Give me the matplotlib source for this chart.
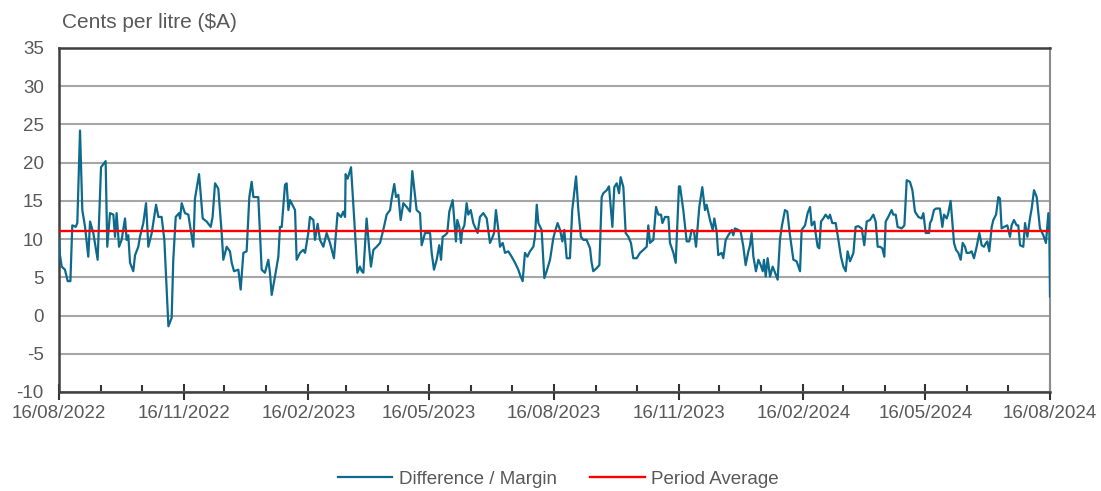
import matplotlib
matplotlib.use("Agg")
import matplotlib.pyplot as plt
import matplotlib.dates as mdates
import numpy as np
from datetime import datetime

plt.rcParams['font.family'] = ['Liberation Sans', 'DejaVu Sans']
plt.rcParams['axes.unicode_minus'] = False

start_date = datetime(2022, 8, 16)
end_date = datetime(2024, 8, 16)

# days after 16/08/2022
day_offset = [
    0.0, 0.7, 2.0, 4.4, 6.4, 8.4, 9.8, 12.3, 13.5, 15.5, 17.2, 19.2, 21.6, 22.9, 25.3, 28.5,
    31.0, 34.4, 35.6, 37.6, 40.1, 41.3, 42.5, 44.3, 46.2, 48.7, 49.9, 51.1, 52.4, 54.8, 56.1,
    58.5, 59.7, 62.2, 64.2, 65.9, 68.4, 71.6, 73.3, 75.7, 77.7, 80.7, 83.1, 84.3, 86.1, 88.5,
    89.3, 90.5, 92.9, 95.4, 97.9, 99.1, 100.3, 103.3, 106.0, 108.9, 111.9, 113.3, 115.1, 117.5,
    120.0, 121.2, 123.7, 126.1, 127.4, 129.1, 132.3, 134.0, 136.0, 138.4, 140.4, 142.1, 143.4,
    147.0, 149.5, 151.9, 154.4, 155.6, 156.9, 159.3, 161.8, 163.0, 164.3, 166.7, 167.9, 169.2,
    170.4, 174.1, 175.3, 177.8, 180.2,
    181.5, 182.7, 183.9, 185.1, 187.6, 188.8, 190.8, 192.5, 195.0, 197.4, 199.9, 202.8, 205.5,
    208.0, 209.7, 211.0, 211.4, 212.9, 215.4, 217.8, 220.1, 222.0, 223.3, 224.5, 226.9, 228.7,
    230.1, 231.9, 234.3, 236.8, 239.2, 241.7, 244.2, 245.4, 247.3, 248.6, 250.3, 252.0, 254.0,
    256.5, 258.9, 260.6, 263.8, 266.3, 267.5, 270.0, 272.4,
    273.7, 274.9, 276.6, 278.6, 280.5, 281.8, 283.0, 284.7, 286.4, 287.9, 290.4, 292.8, 293.8,
    295.3, 296.5, 297.5, 299.0, 300.7, 301.9, 303.7, 305.6, 308.8, 310.5, 313.0, 315.5, 317.9,
    319.9, 320.9, 322.3, 324.1, 325.3, 327.3, 329.0, 331.4, 333.9, 336.4, 338.8, 340.1, 342.0,
    343.7, 345.5, 347.4, 349.9, 351.1, 352.4, 353.6, 356.0, 358.0, 359.7, 362.2, 364.6,
    365.9, 367.8, 369.6, 371.3, 372.7, 374.5, 376.9, 378.6, 381.4, 383.1, 385.0, 386.8, 389.2,
    391.7, 392.9, 394.1, 396.6, 398.6, 400.3, 401.5, 404.0, 405.7, 408.2, 409.6, 411.4, 413.1,
    414.3, 416.3, 418.0, 420.0, 421.9, 423.6, 426.1, 428.6, 431.0, 433.5, 434.7, 435.9, 438.4,
    440.4, 442.1, 444.1, 445.1, 447.0, 449.5, 450.7, 453.2, 454.9, 457.3,
    458.1, 460.5, 463.0, 464.9, 466.7, 468.4, 469.9, 472.3, 474.5, 476.5, 477.7, 480.2, 482.2,
    483.4, 485.1, 486.3, 488.8, 490.0, 491.8, 493.7, 496.2, 497.4, 498.6, 501.1, 502.8, 504.8,
    506.5, 508.5, 509.7, 510.9, 512.2, 514.1, 515.9, 517.6, 519.1, 520.0, 521.3, 522.7, 524.5,
    526.4, 528.2, 530.1, 531.8, 533.1, 535.5, 537.2, 539.2, 541.7, 544.1, 546.6, 547.8,
    550.3, 552.2, 554.0, 555.2, 557.2, 558.1, 559.6, 560.8, 562.1, 563.8, 565.5, 567.5, 568.7,
    570.4, 572.9, 574.9, 576.8, 578.6, 580.3, 581.7, 583.5, 586.0, 587.6, 589.6, 592.1, 594.0,
    595.8, 598.2, 600.7, 602.4, 603.9, 605.6, 607.3, 608.8, 609.8, 611.7, 614.2, 615.4, 617.2,
    618.6, 621.6, 623.6, 625.3, 627.7, 629.5, 631.4, 633.9, 636.3, 637.6, 639.3, 641.8,
    642.5, 643.7, 645.4, 646.9, 649.8, 651.6, 652.8, 654.8, 656.0, 657.7, 659.2, 660.2, 661.7,
    663.4, 665.1, 666.6, 668.3, 669.5, 671.5, 673.2, 674.9, 676.9, 678.9, 680.6, 682.3, 683.8,
    684.8, 686.2, 688.0, 689.2, 691.2, 692.9, 694.1, 695.3, 697.1, 699.5, 701.5, 702.7, 704.4,
    706.4, 707.6, 708.9, 711.3, 712.6, 714.3, 716.2, 717.5, 719.2, 721.2, 722.4, 723.6, 726.1,
    728.0, 729.8, 730.5, 731.0,
]

margin = [
    10.0, 7.9, 6.4, 6.0, 4.5, 4.5, 11.8, 11.6, 12.1, 24.2, 13.8, 11.6, 7.7, 12.3, 10.8, 7.3,
    19.4, 20.2, 9.0, 13.4, 13.2, 10.3, 13.4, 9.0, 9.9, 12.7, 9.9, 10.5, 6.9, 5.8, 7.9,
    9.0, 10.3, 12.1, 14.7, 9.0, 10.8, 14.5, 12.9, 12.9, 9.9, -1.4, -0.3, 7.3, 12.9, 13.4,
    12.7, 14.7, 13.4, 13.2, 10.3, 9.0, 15.3, 18.5, 12.7, 12.3, 11.6, 12.9, 17.3, 16.6,
    10.8, 7.3, 9.0, 8.4, 6.9, 5.8, 6.0, 3.4, 8.2, 8.4, 15.5, 17.5, 15.5,
    15.5, 6.0, 5.6, 7.3, 5.6, 2.7, 5.1, 7.7, 11.6, 11.6, 17.1, 17.3, 13.8,
    15.1, 13.8, 7.3, 8.2, 8.6,
    8.2, 9.5, 10.8, 12.9, 12.5, 9.9, 12.0, 9.9, 9.0, 10.8, 9.5, 7.5, 13.4,
    12.9, 13.6, 12.9, 18.5, 17.9, 19.4, 12.5, 5.6, 6.4, 5.8, 5.6, 12.7, 9.0,
    6.4, 8.6, 9.0, 9.5, 11.2, 13.2, 13.8, 15.3, 17.2, 15.5, 15.8, 12.5, 14.7,
    14.2, 13.6, 18.9, 13.8, 13.4, 9.2, 10.8, 10.8,
    10.8, 8.2, 6.0, 7.3, 9.2, 7.3, 10.3, 10.5, 10.8, 13.6, 15.1, 9.7, 12.5,
    11.6, 9.5, 11.2, 11.8, 14.7, 13.2, 13.8, 12.1, 10.8, 12.9, 13.4, 12.7, 9.5,
    10.3, 10.8, 13.8, 11.2, 9.0, 9.5, 8.2, 8.4, 7.7, 6.9, 6.0, 5.3, 4.5,
    8.2, 7.7, 8.4, 9.0, 10.3, 14.5, 12.1, 11.2, 4.9, 5.8, 7.3, 10.1,
    11.0, 12.1, 11.2, 9.7, 11.2, 7.5, 7.5, 13.8, 18.2, 13.8, 10.3, 9.9, 9.9,
    8.8, 6.9, 5.8, 6.2, 6.6, 15.5, 16.0, 16.4, 16.9, 11.6, 16.8, 17.3, 16.0,
    18.1, 16.8, 10.8, 10.3, 9.5, 7.5, 7.5, 8.2, 8.6, 9.0, 11.8, 9.5, 9.9,
    14.2, 13.2, 13.2, 12.1, 12.9, 12.9, 9.5, 8.2, 6.9, 16.9,
    16.9, 13.8, 9.7, 9.7, 11.2, 11.0, 9.0, 14.2, 16.8, 13.8, 14.5, 12.5, 11.2,
    12.7, 11.0, 7.9, 8.2, 7.5, 9.9, 10.5, 11.2, 10.5, 11.4, 11.2, 11.0, 9.0,
    6.6, 8.4, 9.2, 10.8, 7.7, 5.8, 7.3, 6.6, 5.8, 7.3, 5.1, 7.5, 5.1,
    6.4, 5.6, 4.7, 9.9, 11.6, 13.8, 13.6, 10.5, 7.3, 7.1, 5.8, 11.2,
    11.8, 13.4, 14.2, 11.8, 12.3, 10.8, 9.0, 8.8, 12.3, 12.7, 13.2, 12.7, 13.2,
    12.1, 12.1, 9.9, 7.7, 6.4, 5.8, 8.4, 7.1, 8.2, 11.6, 11.7, 11.4, 9.2,
    12.3, 12.5, 13.2, 12.3, 9.0, 9.0, 8.8, 7.7, 12.3, 12.9, 13.8, 13.2, 13.2,
    11.6, 11.4, 11.8, 17.7, 17.5, 16.4, 13.6, 12.9, 12.7, 13.4, 10.8, 10.8,
    12.1, 12.5, 13.8, 14.0, 14.0, 11.6, 13.2, 12.7, 13.4, 15.0, 11.8, 9.5, 8.6,
    8.2, 7.3, 9.5, 9.0, 8.2, 8.2, 8.4, 7.5, 9.0, 10.8, 9.2, 9.0, 9.5,
    9.7, 8.4, 11.6, 12.5, 13.2, 15.5, 15.3, 11.4, 11.6, 11.8, 10.3, 11.8, 12.5,
    11.8, 11.8, 9.2, 9.0, 12.1, 10.3, 12.7, 14.0, 16.4, 15.5, 13.4, 11.4, 10.5,
    9.5, 13.4, 11.0, 2.5,
]

period_average = 11.0

x = mdates.date2num(start_date) + np.array(day_offset)
x0 = mdates.date2num(start_date)
x1 = mdates.date2num(end_date)

fig = plt.figure(figsize=(11.01, 4.91), dpi=100)
ax = fig.add_axes([59 / 1101, 1 - 392 / 491, 991 / 1101, 344 / 491])

ax.plot(x, margin, color='#0E6A8C', lw=1.6, label='Difference / Margin', zorder=3)
ax.plot([x0, x1], [period_average, period_average], color='#FF0000', lw=1.7,
        label='Period Average', zorder=4)

ax.set_xlim(x0, x1)
ax.set_ylim(-10, 35)
ax.set_yticks(range(-10, 40, 5))
ax.yaxis.grid(True, color='#A6A6A6', lw=1.5)
ax.set_axisbelow(True)

ax.xaxis.set_major_locator(mdates.MonthLocator(bymonth=[2, 5, 8, 11], bymonthday=16))
ax.xaxis.set_minor_locator(mdates.MonthLocator(bymonthday=16))
ax.xaxis.set_major_formatter(mdates.DateFormatter('%d/%m/%Y'))

ax.tick_params(axis='y', length=0, pad=11, labelsize=13.5, labelcolor='#595959')
ax.tick_params(axis='x', which='major', direction='inout', length=12, width=1.5,
               color='#333333', pad=3, labelsize=13.5, labelcolor='#595959')
ax.tick_params(axis='x', which='minor', direction='in', length=5, width=1.5, color='#333333')

for side in ['left', 'bottom', 'top']:
    ax.spines[side].set_color('#404040')
    ax.spines[side].set_linewidth(1.8)
ax.spines['right'].set_color('#8C8C8C')
ax.spines['right'].set_linewidth(1.5)

fig.text(62 / 1101, 1 - 22 / 491, 'Cents per litre ($A)', fontsize=15,
         color='#595959', va='center', ha='left')

fig.legend(loc='center', bbox_to_anchor=(0.507, 0.024), ncol=2, frameon=False,
           fontsize=13.5, handlelength=2.9, handletextpad=0.35, columnspacing=1.8,
           labelcolor='#595959')

fig.savefig('out.png', dpi=100)
